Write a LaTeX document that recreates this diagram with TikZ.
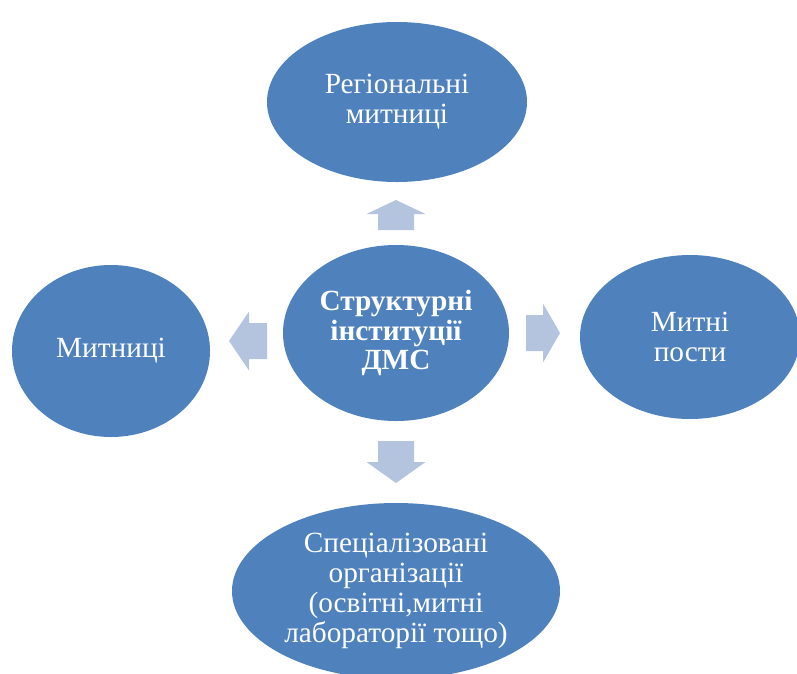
\documentclass[tikz,border=0pt]{standalone}
\usepackage{fontspec}
\setmainfont{Liberation Serif}
\usetikzlibrary{shapes.geometric,positioning}
\definecolor{ovalblue}{HTML}{4F81BD}
\definecolor{arrowblue}{HTML}{B4C4DF}

\tikzset{
  oval/.style={ellipse, fill=ovalblue, inner sep=0pt, align=center,
    text=white, font=\fontsize{25}{25.5}\selectfont},
  pics/barrow/.style n args={2}{code={
    \fill[arrowblue] (0,-18) -- (#2,-18) -- (#2,-29.5) -- (#1,0)
      -- (#2,29.5) -- (#2,18) -- (0,18) -- cycle;
  }}
}

\begin{document}
\begin{tikzpicture}[x=0.03cm, y=-0.03cm]
  \useasboundingbox (0,0) rectangle (797,673);
  % ovals
  \node[oval, minimum width=6.78cm, minimum height=5.28cm] (dms) at (396,333)
    {\bfseries Структурні\\\bfseries інституції\\\bfseries ДМС};
  \node[oval, minimum width=7.8cm, minimum height=4.8cm] (region) at (397,102)
    {Регіональні\\митниці};
  \node[oval, minimum width=5.94cm, minimum height=5.16cm] (customs) at (111,351)
    {Митниці};
  \node[oval, minimum width=6.6cm, minimum height=4.92cm] (posts) at (690,337)
    {Митні\\пости};
  \node[oval, minimum width=9.84cm, minimum height=5.28cm] (special) at (396,591)
    {Спеціалізовані\\організації\\(освітні,митні\\лабораторії тощо)};
  % block arrows
  \pic[rotate=90] at (396,230) {barrow={30}{16}};
  \pic[rotate=-90] at (396,441) {barrow={42}{21}};
  \pic at (526,333) {barrow={34}{17}};
  \pic[rotate=180] at (267,341) {barrow={38}{18}};
\end{tikzpicture}
\end{document}
